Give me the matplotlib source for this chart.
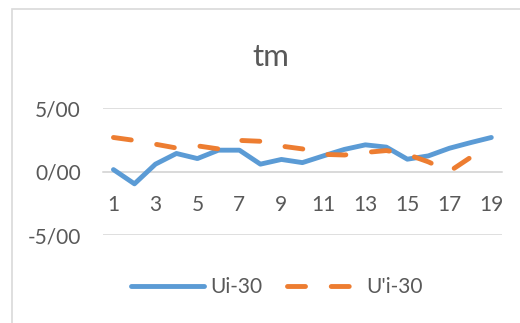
import numpy as np
import matplotlib
matplotlib.use("Agg")
import matplotlib.pyplot as plt
import matplotlib.patches as patches
from matplotlib.ticker import FuncFormatter

plt.rcParams['font.family'] = ['Lato', 'DejaVu Sans']

# Series values
x_vals = list(range(1, 20))
ui_30 = [0.15, -0.97, 0.58, 1.42, 1.02, 1.68, 1.68, 0.58, 0.95, 0.70,
         1.23, 1.74, 2.10, 1.92, 0.97, 1.23, 1.83, 2.27, 2.68]
u_prime_i_30 = [2.68, 2.45, 2.15, 1.85, 2.02, 1.78, 2.45, 2.38, 2.0, 1.78,
                1.35, 1.30, 1.50, 1.65, 1.35, 0.76, 0.0, 1.10, np.nan]
series_names = ["Ui-30", "U'i-30"]
y_ticks = [-5, 0, 5]
x_tick_labels = [1, 3, 5, 7, 9, 11, 13, 15, 17, 19]

blue = '#5B9BD5'
orange = '#ED7D31'
grid_col = '#D9D9D9'
text_col = '#595959'

fig = plt.figure(figsize=(5.2, 3.23), dpi=100)
ax = fig.add_axes([0.198, 0.2724, 0.767, 0.3932])

# chart frame
frame = patches.Rectangle((11.5/520, -0.1), 1.2, 1.1 - 9.5/323, transform=fig.transFigure,
                          facecolor='none', edgecolor=grid_col, linewidth=1.2)
fig.add_artist(frame)

lw = 3.5
ax.plot(x_vals, ui_30, color=blue, linewidth=lw, solid_joinstyle='round',
        solid_capstyle='round', label=series_names[0], zorder=3)
ax.plot(x_vals, u_prime_i_30, color=orange, linewidth=lw, dashes=(3.7, 5.3),
        dash_capstyle='round', dash_joinstyle='round', label=series_names[1], zorder=3)

ax.set_xlim(0.5, 19.5)
ax.set_ylim(-5, 5)
ax.set_yticks(y_ticks)
ax.yaxis.set_major_formatter(FuncFormatter(lambda v, p: f"{v:.2f}".replace('.', '/')))
ax.set_xticks(x_tick_labels)
ax.set_xticklabels([str(t) for t in x_tick_labels])

ax.grid(axis='y', color=grid_col, linewidth=1.2, zorder=0)
for s in ['top', 'right', 'left']:
    ax.spines[s].set_visible(False)
ax.spines['bottom'].set_position(('data', 0))
ax.spines['bottom'].set_color(grid_col)
ax.spines['bottom'].set_linewidth(1.2)
ax.tick_params(axis='both', length=0, labelsize=15, labelcolor=text_col)
ax.tick_params(axis='y', pad=16)
ax.tick_params(axis='x', pad=17)

fig.text(0.52, 0.823, 'tm', ha='center', va='center', fontsize=22.5, color=text_col)

ax.legend(loc='center', bbox_to_anchor=(0.532, 0.111), bbox_transform=fig.transFigure,
          ncol=2, frameon=False, fontsize=15, labelcolor=text_col,
          handlelength=3.5, handletextpad=0.3, columnspacing=1.2)

fig.savefig('out.png', dpi=100)
